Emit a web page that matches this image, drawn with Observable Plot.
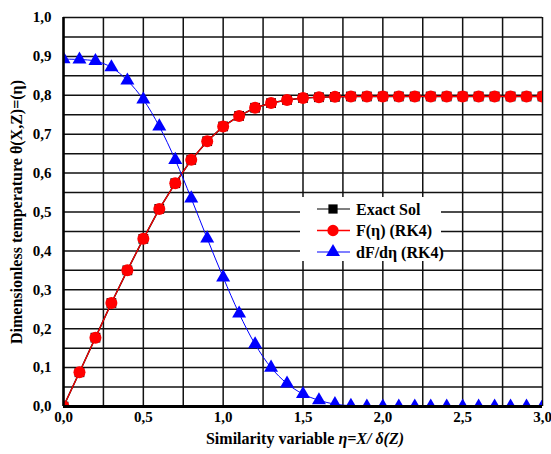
<!DOCTYPE html>
<html><head><meta charset="utf-8">
<script src="https://cdn.jsdelivr.net/npm/d3@7"></script>
<script src="https://cdn.jsdelivr.net/npm/@observablehq/plot@0.6"></script>
<style>
body{margin:0;background:#fff}
#chart svg text{font-family:"Liberation Serif","DejaVu Serif",serif !important;}
</style>
</head><body><div id="chart"></div>
<script>
const eta = [0,0.1,0.2,0.3,0.4,0.5,0.6,0.7,0.8,0.9,1.0,1.1,1.2,1.3,1.4,1.5,1.6,1.7,1.8,1.9,2.0,2.1,2.2,2.3,2.4,2.5,2.6,2.7,2.8,2.9,3.0];
const exactSol = [0,0.088,0.177,0.266,0.350,0.431,0.508,0.574,0.634,0.682,0.720,0.747,0.768,0.780,0.788,0.793,0.795,0.796,0.797,0.797,0.797,0.797,0.797,0.797,0.797,0.797,0.797,0.797,0.797,0.797,0.797];
const fRK4 = [0,0.088,0.177,0.266,0.350,0.431,0.508,0.574,0.634,0.682,0.720,0.747,0.768,0.780,0.788,0.793,0.795,0.796,0.797,0.797,0.797,0.797,0.797,0.797,0.797,0.797,0.797,0.797,0.797,0.797,0.797];
const dfRK4 = [0.893,0.892,0.888,0.872,0.838,0.789,0.720,0.634,0.535,0.432,0.332,0.239,0.160,0.100,0.059,0.032,0.016,0.006,0.002,0,0,0,0,0,0,0,0,0,0,0,0];
const xTicks = [0,0.5,1.0,1.5,2.0,2.5,3.0];
const yTicks = [0,0.1,0.2,0.3,0.4,0.5,0.6,0.7,0.8,0.9,1.0];
const xGrid = d3.range(0, 3.001, 0.25);
const yGrid = d3.range(0, 1.001, 0.05);
const legendLabels = ["Exact Sol", "F(η) (RK4)", "dF/dη (RK4)"];
const legendColors = ["#000000", "#ff0000", "#0000ff"];
const legendSymbols = ["square", "circle", "triangle"];

const exactData = eta.map((x,i)=>({x, y: exactSol[i]}));
const fData = eta.map((x,i)=>({x, y: fRK4[i]}));
const dData = eta.map((x,i)=>({x, y: dfRK4[i]}));
const fmt = d => d.toFixed(1).replace(".", ",");
const serif = "'Liberation Serif', 'DejaVu Serif', serif";

const plot = Plot.plot({
  width: 551, height: 454,
  marginLeft: 63, marginRight: 9, marginTop: 17, marginBottom: 48,
  style: {background: "#fff", fontSize: "15px", fontFamily: serif, fontWeight: "bold", color: "#000"},
  x: {domain: [0, 3], label: null},
  y: {domain: [0, 1], label: null},
  marks: [
    Plot.ruleX(xGrid, {stroke: "#111", strokeWidth: 1.5}),
    Plot.ruleY(yGrid, {stroke: "#111", strokeWidth: 1.5}),
    Plot.line(exactData, {x: "x", y: "y", stroke: "#000", strokeWidth: 1.5, clip: true}),
    Plot.dot(exactData, {x: "x", y: "y", symbol: "square", r: 5.5, fill: "#000", clip: true}),
    Plot.line(fData, {x: "x", y: "y", stroke: "#ff0000", strokeWidth: 1.2, clip: true}),
    Plot.dot(fData, {x: "x", y: "y", symbol: "circle", r: 6, fill: "#ff0000", clip: true}),
    Plot.line(dData, {x: "x", y: "y", stroke: "#0000ff", strokeWidth: 1, curve: "catmull-rom", clip: true}),
    Plot.dot(dData, {x: "x", y: "y", symbol: "triangle", r: 5.2, fill: "#0000ff", clip: true}),
    Plot.ruleX([0], {stroke: "#000", strokeWidth: 2.5}),
    Plot.ruleY([0], {stroke: "#000", strokeWidth: 3}),
    Plot.axisX({ticks: xTicks, tickFormat: fmt, tickSize: 0, tickPadding: 5, fontWeight: "bold", fontSize: 15, label: null}),
    Plot.axisY({ticks: yTicks, tickFormat: fmt, tickSize: 0, tickPadding: 12, fontWeight: "bold", fontSize: 15, label: null})
  ]
});

const svg = d3.select(plot);
svg.selectAll("text").style("fill", "#000");

// legend
const lg = svg.append("g").attr("text-anchor", "start").attr("font-family", serif);
lg.append("rect").attr("x", 300).attr("y", 197).attr("width", 141).attr("height", 64).attr("fill", "#fff");
const sym = {square: d3.symbolSquare, circle: d3.symbolCircle, triangle: d3.symbolTriangle};
legendLabels.forEach((lab, i) => {
  const cy = 209 + i * 21.5;
  lg.append("line").attr("x1", 317).attr("x2", 350).attr("y1", cy).attr("y2", cy)
    .attr("stroke", legendColors[i]).attr("stroke-width", i === 1 ? 1.5 : 1.2);
  lg.append("path").attr("transform", `translate(333,${cy})`)
    .attr("d", d3.symbol(sym[legendSymbols[i]], i === 1 ? 100 : 85)())
    .attr("fill", legendColors[i]);
  lg.append("text").attr("x", 356).attr("y", cy).attr("dy", "0.35em")
    .attr("font-size", 16).attr("font-weight", "bold").attr("fill", "#000").text(lab);
});

// axis titles
const xl = svg.append("text").attr("x", 305).attr("y", 444).attr("text-anchor", "middle")
  .attr("font-family", serif).attr("font-size", 16).attr("font-weight", "bold").attr("fill", "#000");
xl.append("tspan").text("Similarity variable ");
xl.append("tspan").attr("font-style", "italic").text("η=X/ δ(Z)");

svg.append("text").attr("transform", "translate(22,212) rotate(-90)").attr("text-anchor", "middle")
  .attr("font-family", serif).attr("font-size", 16).attr("font-weight", "bold").attr("fill", "#000")
  .text("Dimensionless temperature θ(X,Z)=(η)");

document.getElementById("chart").appendChild(plot);
</script>
</body></html>
